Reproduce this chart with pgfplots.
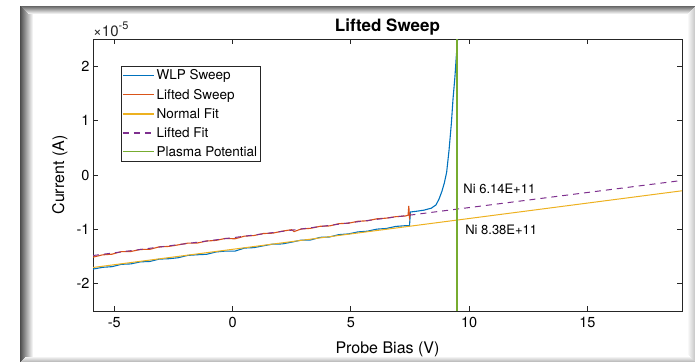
\documentclass[border=0pt]{standalone}
\usepackage{pgfplots}
\pgfplotsset{compat=1.18}
\usepackage{fontspec}
\setmainfont{TeX Gyre Heros}
\definecolor{mblue}{RGB}{0,114,189}
\definecolor{morange}{RGB}{217,83,25}
\definecolor{myellow}{RGB}{237,177,32}
\definecolor{mpurple}{RGB}{126,47,142}
\definecolor{mgreen}{RGB}{119,172,48}
\definecolor{axgray}{RGB}{38,38,38}
\begin{document}
\begin{tikzpicture}
\useasboundingbox (0pt,0pt) rectangle (695pt,362pt);
\begin{axis}[
  at={(93pt,51pt)}, anchor=south west,
  width=589pt, height=272pt, scale only axis,
  clip mode=individual,
  xmin=-5.9, xmax=19, ymin=-2.5, ymax=2.5,
  xtick={-5,0,5,10,15}, ytick={-2,-1,0,1,2},
  tick align=inside, major tick length=5pt,
  axis line style={axgray, line width=0.9pt},
  every tick/.style={axgray, line width=0.9pt},
  /pgf/number format/assume math mode=true,
  ticklabel style={font=\fontsize{14.5}{16}\selectfont},
  xticklabel style={yshift=-3pt},
  title={\bfseries Lifted Sweep},
  title style={at={(axis description cs:0.5,1)}, anchor=base, yshift=2pt, font=\fontsize{17}{19}\selectfont},
  xlabel={Probe Bias (V)},
  xlabel style={at={(axis description cs:0.5,0)}, anchor=base, yshift=-42pt, font=\fontsize{16}{18}\selectfont},
  ylabel={Current (A)},
  ylabel style={at={(axis description cs:-0.049,0.5)}, anchor=base, font=\fontsize{16}{18}\selectfont},
  legend style={at={(axis description cs:0.0475,0.9007)}, anchor=north west,
    font=\fontsize{13.5}{15}\selectfont, draw=axgray, line width=0.8pt,
    inner xsep=1pt, inner ysep=1.5pt, row sep=3.6pt},
  legend cell align=left,
  legend image code/.code={\draw[line width=1.2pt, #1] (0pt,0pt) -- (31pt,0pt);},
]
\addplot[color=mblue, line width=1.1pt] coordinates {
(-5.9,-1.730) (-5.5,-1.697) (-5.1,-1.685) (-4.7,-1.642) (-4.3,-1.634) (-3.9,-1.597)
(-3.5,-1.589) (-3.1,-1.546) (-2.7,-1.539) (-2.3,-1.521) (-1.9,-1.478) (-1.5,-1.466)
(-1.1,-1.458) (-0.7,-1.415) (-0.3,-1.398) (0.1,-1.400) (0.5,-1.343) (0.9,-1.335)
(1.3,-1.302) (1.7,-1.270) (2.1,-1.267) (2.5,-1.234) (2.9,-1.197) (3.3,-1.194)
(3.7,-1.146) (4.1,-1.139) (4.5,-1.096) (4.9,-1.083) (5.3,-1.046) (5.7,-1.033)
(6.1,-0.995) (6.5,-0.983) (6.9,-0.945) (7.3,-0.932) (7.48,-0.93)
(7.52,-0.68) (7.8,-0.665) (8.1,-0.645) (8.4,-0.61) (8.6,-0.55) (8.73,-0.44)
(8.85,-0.30) (8.95,-0.15) (9.05,0.05) (9.15,0.45) (9.25,0.95) (9.32,1.40)
(9.4,1.8) (9.45,2.13) (9.53,2.6)};
\addlegendentry{WLP Sweep}
\addplot[color=morange, line width=1.1pt] coordinates {
(-5.9,-1.510) (-5.5,-1.468) (-5.1,-1.456) (-4.7,-1.408) (-4.3,-1.406) (-3.9,-1.369)
(-3.5,-1.367) (-3.1,-1.320) (-2.7,-1.313) (-2.3,-1.285) (-1.9,-1.253) (-1.5,-1.251)
(-1.1,-1.214) (-0.7,-1.202) (-0.3,-1.165) (0.1,-1.173) (0.5,-1.125) (0.9,-1.113)
(1.3,-1.076) (1.7,-1.069) (2.1,-1.032) (2.5,-1.005) (2.6,-1.04) (2.9,-0.993)
(3.3,-0.980) (3.7,-0.943) (4.1,-0.936) (4.5,-0.894) (4.9,-0.887) (5.3,-0.850)
(5.7,-0.842) (6.1,-0.805) (6.5,-0.793) (6.9,-0.766) (7.3,-0.754) (7.42,-0.74)
(7.45,-0.57) (7.48,-0.78) (7.52,-0.71)};
\addlegendentry{Lifted Sweep}
\addplot[color=myellow, line width=1pt] coordinates {(-5.9,-1.70) (19,-0.29)};
\addlegendentry{Normal Fit}
\addplot[color=mpurple, line width=1pt, dash pattern=on 6pt off 5pt] coordinates {(-5.9,-1.48) (19,-0.10)};
\addlegendentry{Lifted Fit}
\addplot[color=mgreen, line width=1.8pt] coordinates {(9.5,-2.5) (9.5,2.5)};
\addlegendentry{Plasma Potential}
\node[anchor=west, font=\fontsize{13}{15}\selectfont, inner sep=0pt] at (axis cs:9.75,-0.26) {Ni 6.14E+11};
\node[anchor=west, font=\fontsize{13}{15}\selectfont, inner sep=0pt] at (axis cs:9.83,-1.0) {Ni 8.38E+11};
\node[anchor=base west, inner sep=0pt, text=axgray] at (axis description cs:0,1.01) {\fontsize{15}{17}\selectfont ×10\raisebox{0.9ex}{\fontsize{11}{13}\selectfont -5}};
\end{axis}
% screenshot frame, drawn as stepped strips
\foreach \i in {0,...,12} {
  \pgfmathsetmacro{\g}{70*(1-\i/13)}
  \fill[black!\g!white] ({20pt+\i*1pt},0pt) rectangle ({21pt+\i*1pt},356pt);
}
\foreach \i in {0,...,7} {
  \pgfmathsetmacro{\g}{60*(1-\i/8)}
  \fill[black!\g!white] ({21pt+\i*1pt},{355pt-\i*1pt}) rectangle (695pt,{356pt-\i*1pt});
}
\foreach \i in {0,...,4} {
  \pgfmathsetmacro{\g}{25*(1-\i/5)}
  \fill[black!\g!white] ({21pt+\i*1pt},{\i*1pt}) rectangle (695pt,{\i*1pt+1pt});
}
\foreach \i in {0,...,6} {
  \pgfmathsetmacro{\g}{20*(1-\i/7)}
  \fill[black!\g!white] ({694pt-\i*1pt},{\i*1pt+1pt}) rectangle ({695pt-\i*1pt},{355pt-\i*1pt});
}
\end{tikzpicture}
\end{document}
